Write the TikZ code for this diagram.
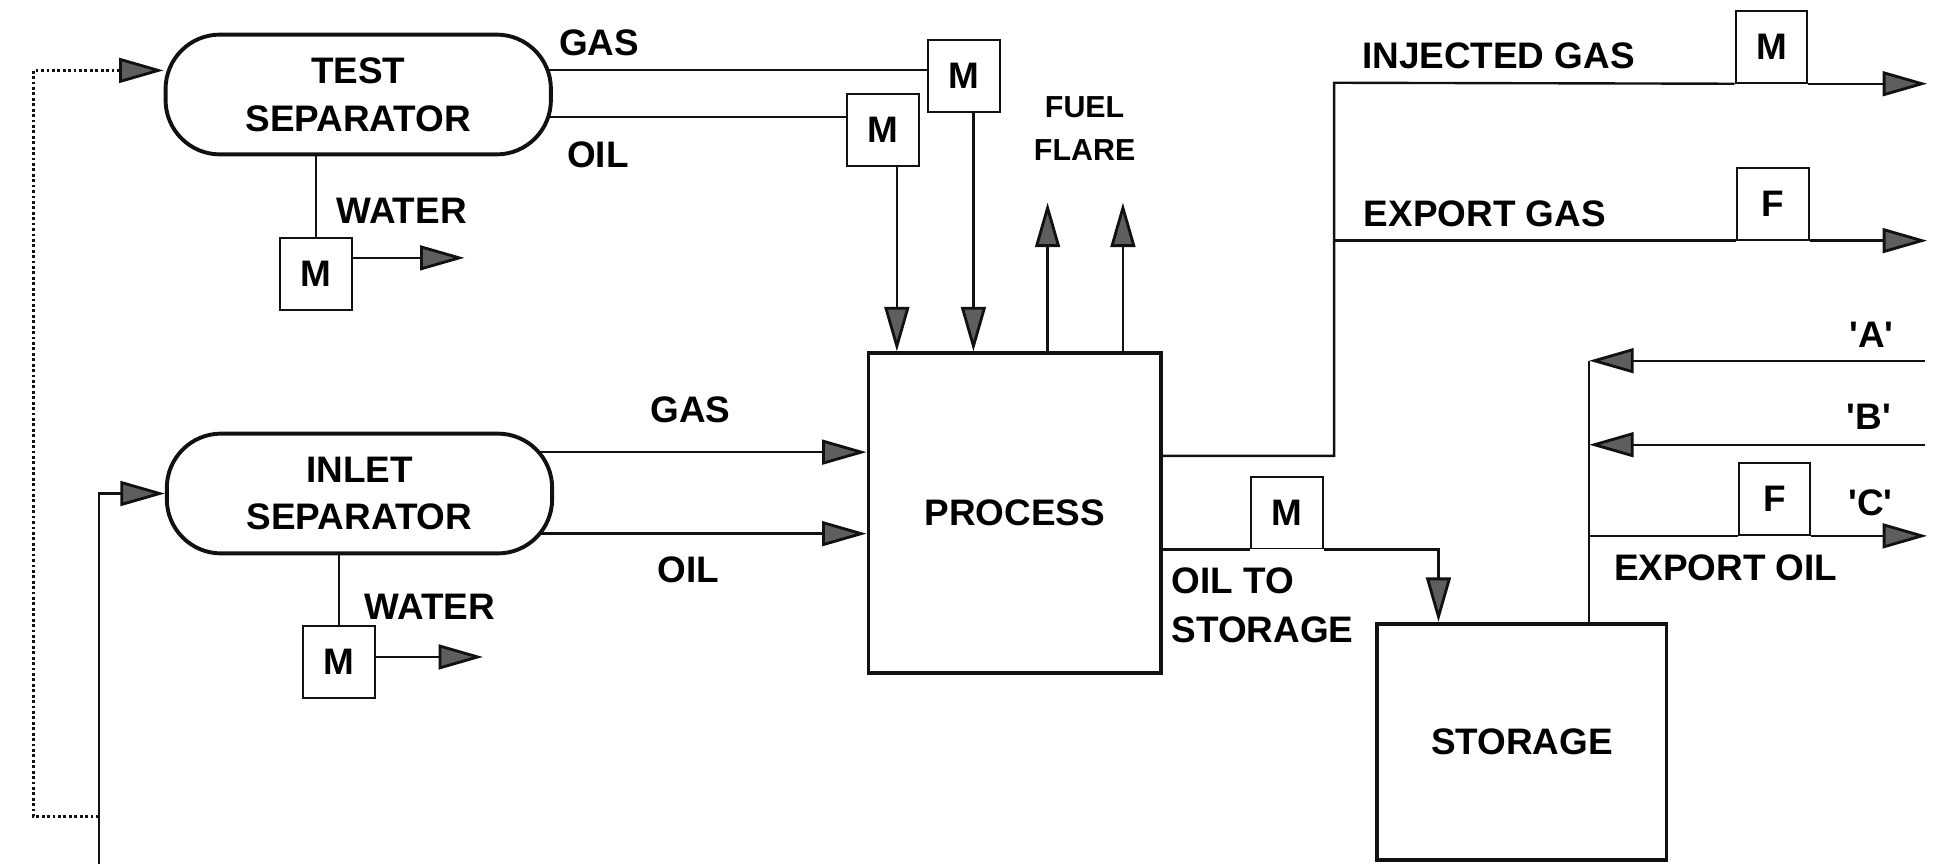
\documentclass[tikz,border=0pt]{standalone}
\usepackage{fontspec}
\setmainfont{Liberation Sans}
\usepackage{tikz}
\usetikzlibrary{arrows.meta, positioning, backgrounds, calc}
\definecolor{tipgray}{HTML}{5E5E5E}
\definecolor{linedark}{HTML}{111111}
\tikzset{
  separator/.style={
    rectangle, rounded corners=0.88cm,
    minimum width=6.24cm, minimum height=1.94cm,
    align=center, draw=linedark, line width=1.8pt,
    fill=white, font=\fontsize{17}{22}\selectfont\bfseries,
  },
  unit/.style={
    rectangle, align=center, draw=linedark, line width=1.8pt,
    fill=white, font=\fontsize{17}{22}\selectfont\bfseries,
  },
  meter/.style={
    rectangle, minimum size=1.16cm, inner sep=0pt,
    draw=linedark, line width=0.9pt, fill=white,
    font=\fontsize{17}{20}\selectfont\bfseries,
  },
  pipe/.style={draw=linedark, line width=1.1pt},
  flow/.style={pipe, -{Triangle[length=0.72cm, width=0.4cm, fill=tipgray, line width=1.3pt]}},
  testfeed/.style={flow, line width=1.3pt, dash pattern=on 1.3pt off 1.2pt},
  stream/.style={font=\fontsize{17}{22.5}\selectfont\bfseries, inner sep=0pt, align=center},
  note/.style={font=\fontsize{14}{20}\selectfont\bfseries, inner sep=0pt, align=center},
}

\begin{document}
\begin{tikzpicture}[x=0.02cm, y=-0.02cm]
  \useasboundingbox (0,0) rectangle (1568,699);

  % vessels and units
  \node[separator] (tsep) at (290,76.5) {TEST\\SEPARATOR};
  \node[separator] (isep) at (291,399.5) {INLET\\SEPARATOR};
  \node[unit, minimum width=4.74cm, minimum height=5.18cm] (proc) at (821.5,415.5) {PROCESS};
  \node[unit, minimum width=4.68cm, minimum height=3.82cm] (stor) at (1232,600.5) {STORAGE};

  % meters
  \node[meter] (tgm) at (780.5,61.5) {M};
  \node[meter] (tom) at (715,105) {M};
  \node[meter] (twm) at (256,222) {M};
  \node[meter] (iwm) at (274.5,536) {M};
  \node[meter] (injm) at (1434,38) {M};
  \node[meter] (exgf) at (1435,165) {F};
  \node[meter] (stm) at (1042,415) {M};
  \node[meter] (exof) at (1436.5,404) {F};

  % free ends and bends
  \coordinate (twout) at (376,209);
  \coordinate (iwout) at (391,532);
  \coordinate (fuel) at (848,164);
  \coordinate (flare) at (909,164);
  \coordinate (gasjct) at (1080,67);
  \coordinate (rimout) at (1560,0);
  \coordinate (srcA) at (1558,292);
  \coordinate (srcB) at (1558,360);
  \coordinate (feed) at (80,699);
  \coordinate (split) at (80,661);
  \coordinate (dotbend) at (27,661);
  \coordinate (tin) at ([yshift=0.39cm]tsep.west);
  \coordinate (gin) at ([yshift=0.99cm]proc.west);
  \coordinate (oin) at ([yshift=-0.33cm]proc.west);
  \coordinate (tomdrop) at ([xshift=0.22cm]tom.south);
  \coordinate (tgmdrop) at ([xshift=0.15cm]tgm.south);
  \coordinate (procgas) at ([yshift=0.93cm]proc.east);
  \coordinate (storin) at ([xshift=1.02cm]stor.north west);
  \coordinate (oiljct) at ([xshift=3.46cm]stor.north west);

  % labels
  \node[stream] (tgaslbl) at (485,35) {GAS};
  \node[stream] (toillbl) at (484,125) {OIL};
  \node[stream] (twlbl) at (325,171) {WATER};
  \node[note] (fuellbl) at (878,104) {FUEL\\FLARE};
  \node[stream] (igaslbl) at (559,332) {GAS};
  \node[stream] (ioillbl) at (557,461) {OIL};
  \node[stream] (iwlbl) at (348,491) {WATER};
  \node[stream] (injlbl) at (1213,45) {INJECTED GAS};
  \node[stream] (exglbl) at (1202,173) {EXPORT GAS};
  \node[stream, align=left, anchor=west] (oslbl) at (948,490) {OIL TO\\STORAGE};
  \node[stream] (albl) at (1515,271) {\textquotesingle A\textquotesingle};
  \node[stream] (blbl) at (1513,337) {\textquotesingle B\textquotesingle};
  \node[stream] (clbl) at (1514,407) {\textquotesingle C\textquotesingle};
  \node[stream] (exolbl) at (1397,460) {EXPORT OIL};

  % separator outlets
  \begin{scope}[on background layer]
    \draw[pipe] (tsep.center |- tgm.171) -- (tgm.171);
    \draw[pipe] (tsep.center |- tom.161) -- (tom.161);
    \draw[flow] (isep.center |- gin) -- (gin);
    \draw[flow] (isep.center |- oin) -- (oin);
  \end{scope}
  \draw[pipe] (twm.north |- tsep.south) -- (twm.north);
  \draw[flow] (twm.24) -- (twm.24 -| twout);
  \draw[pipe] (iwm.north |- isep.south) -- (iwm.north);
  \draw[flow] (iwm.8) -- (iwm.8 -| iwout);

  % feeds
  \draw[flow] (feed) |- (isep.west);
  \draw[testfeed] (split) -- (dotbend) |- (tin);

  % process
  \draw[flow] (tomdrop) -- (tomdrop |- proc.north);
  \draw[flow] (tgmdrop) -- (tgmdrop |- proc.north);
  \draw[flow] (fuel |- proc.north) -- (fuel);
  \draw[flow] (flare |- proc.north) -- (flare);

  % gas export
  \draw[pipe] (procgas) -| (gasjct) -- (injm.south west);
  \draw[flow] (injm.south east) -- (injm.south east -| rimout);
  \draw[pipe] (gasjct |- exgf.south west) -- (exgf.south west);
  \draw[flow] (exgf.south east) -- (exgf.south east -| rimout);

  % oil to storage and export
  \draw[pipe] (proc.east |- stm.south) -- (stm.south west);
  \draw[flow] (stm.south east) -| (storin);
  \draw[pipe] (oiljct) -- (oiljct |- srcA);
  \draw[flow] (srcA) -- (srcA -| oiljct);
  \draw[flow] (srcB) -- (srcB -| oiljct);
  \draw[pipe] (oiljct |- exof.south west) -- (exof.south west);
  \draw[flow] (exof.south east) -- (exof.south east -| rimout);

\end{tikzpicture}
\end{document}
